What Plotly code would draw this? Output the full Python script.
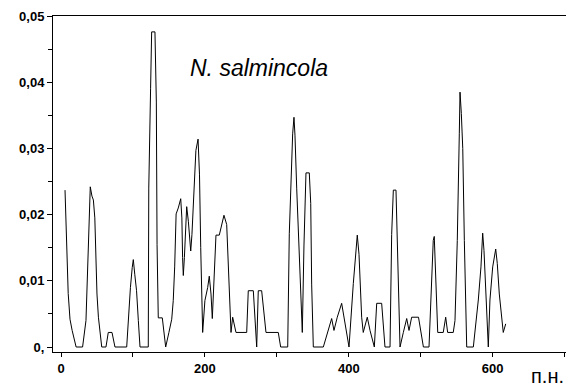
import plotly.graph_objects as go

# Position along the sequence (bp) and the per-window frequency
position = [
    5.6, 6.5, 8, 10, 12.5, 15.5, 21, 30, 34.7, 37.5, 39, 40.7, 43, 45, 47, 50, 52,
    56.6, 62.5, 65.7, 70.9, 75, 91.3, 93.5, 96.5, 99, 100.5, 102.5, 105, 107.5,
    109.8, 121.3, 122, 124.5, 126, 130.6, 132.5, 133.5, 135.2, 140.8, 145.5,
    150, 153.9, 156, 158, 160, 163, 166.4, 168, 169, 170, 171.5, 174.7, 177, 179,
    180.3, 182, 184, 185.5, 187.5, 190.5, 192.5, 194.2, 196.9, 200, 203.9, 206.1,
    208.5, 210.3, 212.5, 215.4, 220, 223.8, 226.5, 230.3, 233, 236.3, 238.6,
    243.2, 258.1, 260.3, 267.3, 272, 274.2, 278.9, 284.9, 302, 305.3, 315.1,
    317.3, 319.2, 322, 323.8, 325.2, 327.6, 329.8, 333.1, 335.4, 337.7, 340.5,
    345.1, 347.1, 348.4, 350.7, 364.6, 376.2, 379.4, 384, 390.1, 400.3, 406.3,
    411.8, 414.2, 417.9, 420.1, 425.7, 429.5, 435.5, 438.8, 445.7, 450.3, 457.3,
    459.6, 461.9, 465.6, 467.4, 471.2, 475.8, 480.5, 483.7, 487.4, 496.9, 503.7,
    511.5, 515.2, 517.4, 518.8, 521.2, 523.6, 531.3, 534.7, 537.4, 545.2, 547.6,
    550.8, 553.6, 554.6, 556.4, 558.4, 560.6, 563.9, 573.1, 580, 583.7, 586.1,
    587.9, 590.7, 593.9, 596.2, 600, 604.2, 606.4, 609.2, 612.5, 614.7, 618.1,
]
frequency = [
    0.0237, 0.0205, 0.014, 0.0081, 0.0042, 0.0025, 0, 0, 0.004, 0.014, 0.02,
    0.0242, 0.0228, 0.0222, 0.0195, 0.008, 0.0045,
    0, 0, 0.0022, 0.0022, 0, 0, 0.004, 0.009, 0.012, 0.0132, 0.011, 0.0085, 0.004,
    0, 0, 0.024, 0.039, 0.0476, 0.0476, 0.037, 0.0155, 0.0044, 0.0044, 0,
    0.0022, 0.0042, 0.007, 0.0121, 0.0201, 0.021, 0.0224, 0.0195, 0.0135, 0.0108,
    0.0135, 0.0212, 0.019, 0.016,
    0.0145, 0.017, 0.021, 0.0257, 0.0297, 0.0314, 0.026, 0.015, 0.0022, 0.007,
    0.009, 0.0107,
    0.008, 0.0043, 0.01, 0.0169, 0.0169, 0.0185, 0.0199, 0.0185, 0.011, 0.0022,
    0.0045,
    0.0022, 0.0022, 0.0085, 0.0085, 0, 0.0085, 0.0085, 0.0022, 0.0022, 0, 0,
    0.0171, 0.0242, 0.0322, 0.0347, 0.032, 0.024, 0.0171, 0.0071, 0.0022, 0.0154,
    0.0263,
    0.0263, 0.0217, 0.0095, 0, 0, 0.0043, 0.0025, 0.0045, 0.0066, 0, 0.0096,
    0.0169, 0.014, 0.0045, 0.0022, 0.0045, 0.0025, 0, 0.0066, 0.0066, 0, 0,
    0.017, 0.0237, 0.0237, 0.017, 0, 0.0022, 0.0043, 0.0025, 0.0045, 0.0045, 0,
    0, 0.0121, 0.0161, 0.0167, 0.009, 0.0022, 0.0022, 0.0045, 0.0022, 0.0022,
    0.004,
    0.0161, 0.0322, 0.0385, 0.0353, 0.03, 0.0161, 0, 0, 0.0071, 0.0121, 0.0172,
    0.0146, 0.0085, 0, 0.0071, 0.0121, 0.0148, 0.0126, 0.008, 0.004, 0.0022,
    0.0035,
]

x_major = [0, 200, 400, 600]
x_minor = [100, 300, 500, 700]
y_major = [0, 0.01, 0.02, 0.03, 0.04, 0.05]
y_labels = ["0,", "0,01", "0,02", "0,03", "0,04", "0,05"]
y_minor = [0.005, 0.015, 0.025, 0.035, 0.045]

tick_font = dict(family="Arial, Liberation Sans", size=13, color="black", weight="bold")

fig = go.Figure(
    go.Scatter(
        x=position,
        y=frequency,
        mode="lines",
        line=dict(color="black", width=1),
        hoverinfo="skip",
    )
)

fig.update_layout(
    width=566,
    height=390,
    margin=dict(l=53, r=0, t=16, b=38),
    paper_bgcolor="white",
    plot_bgcolor="white",
    showlegend=False,
    xaxis=dict(
        range=[-11.12, 701.9],
        tickvals=x_major,
        ticktext=[str(v) for v in x_major],
        ticks="outside",
        ticklen=4,
        tickcolor="black",
        tickfont=tick_font,
        showline=True,
        linecolor="black",
        linewidth=1,
        mirror=True,
        showgrid=False,
        zeroline=False,
        minor=dict(tickvals=x_minor, ticks="outside", ticklen=4, tickcolor="black"),
    ),
    yaxis=dict(
        range=[-0.000755, 0.05],
        tickvals=y_major,
        ticktext=y_labels,
        ticks="outside",
        ticklen=5,
        tickcolor="black",
        tickfont=tick_font,
        showline=True,
        linecolor="black",
        linewidth=1,
        showgrid=False,
        zeroline=False,
        minor=dict(tickvals=y_minor, ticks="outside", ticklen=4, tickcolor="black"),
    ),
    annotations=[
        dict(
            text="<i>N. salmincola</i>",
            xref="paper", yref="paper",
            x=0.4025, y=0.845,
            xanchor="center", yanchor="middle",
            showarrow=False,
            font=dict(family="Arial, Liberation Sans", size=23, color="black"),
        ),
        dict(
            text="п.н.",
            xref="paper", yref="paper",
            x=0.927, y=-0.0714,
            xanchor="left", yanchor="middle",
            showarrow=False,
            font=dict(family="Arial, Liberation Sans", size=20, color="black"),
        ),
    ],
)

fig.write_html("out.html")
